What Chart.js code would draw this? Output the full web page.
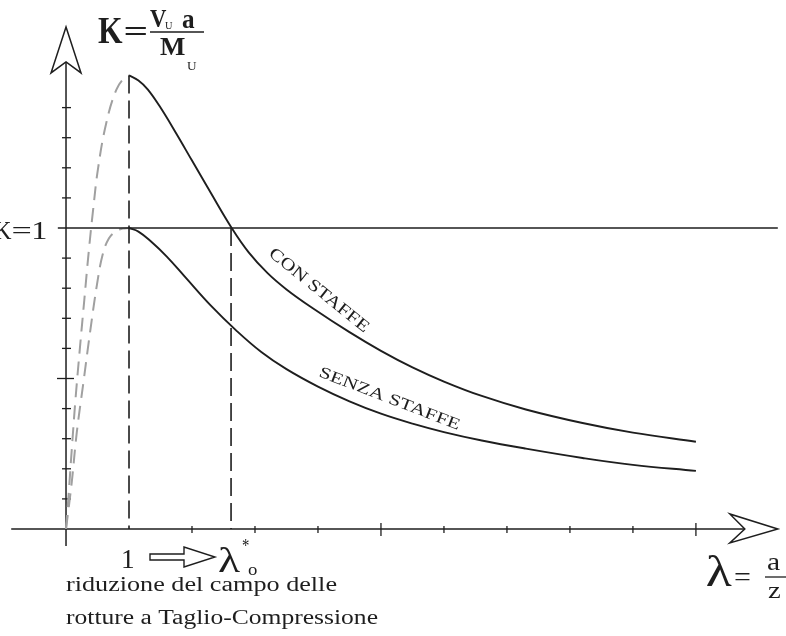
<!DOCTYPE html>
<html>
<head>
<meta charset="utf-8">
<script src="https://cdn.jsdelivr.net/npm/chart.js@4.4.0/dist/chart.umd.min.js"></script>
<style>
  html, body { margin: 0; padding: 0; background: #fff; }
  #wrap { width: 786px; height: 636px; position: relative; }
</style>
</head>
<body>
<div id="wrap"><canvas id="c"></canvas></div>
<script>
// curve CON STAFFE (lambda, K)
const conLam = [1, 1.15, 1.3, 1.5, 1.75, 2.0, 2.3, 2.63, 2.9, 3.2, 3.5, 3.9, 4.5, 5.0, 5.5, 6.0, 6.6, 7.3, 8.2, 9.0, 10.0];
const conK   = [1.507, 1.49, 1.46, 1.40, 1.314, 1.224, 1.116, 1.0, 0.919, 0.85, 0.796, 0.736, 0.654, 0.592, 0.537, 0.49, 0.442, 0.397, 0.352, 0.32, 0.29];

// curve SENZA STAFFE
const senzaLam = [1, 1.15, 1.35, 1.6, 1.9, 2.3, 2.7, 3.1, 3.5, 4.0, 4.5, 5.0, 5.5, 6.0, 6.6, 7.3, 8.2, 9.0, 10.0];
const senzaK   = [1.0, 0.988, 0.955, 0.905, 0.835, 0.742, 0.66, 0.588, 0.531, 0.473, 0.424, 0.383, 0.35, 0.322, 0.294, 0.267, 0.236, 0.213, 0.193];

// grey dashed branches (lambda < 1)
const outerLam = [0, 0.04, 0.09, 0.15, 0.22, 0.29, 0.36, 0.43, 0.51, 0.64, 0.8, 0.93, 1];
const outerK   = [0, 0.11, 0.26, 0.43, 0.6, 0.76, 0.92, 1.06, 1.2, 1.35, 1.46, 1.5, 1.507];
const innerLam = [0, 0.09, 0.17, 0.275, 0.38, 0.49, 0.58, 0.68, 0.8, 0.9, 1];
const innerK   = [0, 0.153, 0.319, 0.485, 0.651, 0.81, 0.91, 0.965, 0.99, 0.998, 1.0];

const lamStar = 2.62;
const kPeak = 1.507;
const lamTicks = [2, 3, 4, 5, 6, 7, 8, 9, 10];
const lamMajor = [5, 10];
const kTicks = [0.1, 0.2, 0.3, 0.4, 0.5, 0.6, 0.7, 0.8, 0.9, 1.1, 1.2, 1.3, 1.4];
const kMajor = [0.5];

const SERIF = "'Liberation Serif', 'DejaVu Serif', serif";
const INK = '#1e1e1e';

const pts = (xs, ys) => xs.map((x, i) => ({ x: x, y: ys[i] }));

// draw text so that its ink fills the given box
function boxText(ctx, str, x0, y0, x1, y1, weight) {
    ctx.save();
    ctx.font = (weight || 'normal') + ' 100px ' + SERIF;
    let m = ctx.measureText(str);
    const h = m.actualBoundingBoxAscent + m.actualBoundingBoxDescent;
    const size = 100 * (y1 - y0) / h;
    ctx.font = (weight || 'normal') + ' ' + size.toFixed(1) + 'px ' + SERIF;
    m = ctx.measureText(str);
    const w = m.actualBoundingBoxLeft + m.actualBoundingBoxRight;
    const sx = (x1 - x0) / w;
    ctx.translate(x0 + m.actualBoundingBoxLeft * sx, y0 + m.actualBoundingBoxAscent);
    ctx.scale(sx, 1);
    ctx.textAlign = 'left';
    ctx.textBaseline = 'alphabetic';
    ctx.fillStyle = INK;
    ctx.fillText(str, 0, 0);
    ctx.restore();
}

// text with fixed size, stretched to a given advance width
function fitText(ctx, str, x, base, size, width, angle) {
    ctx.save();
    ctx.font = size + 'px ' + SERIF;
    const w = ctx.measureText(str).width;
    ctx.translate(x, base);
    if (angle) ctx.rotate(angle * Math.PI / 180);
    ctx.scale(width / w, 1);
    ctx.textAlign = angle ? 'center' : 'left';
    ctx.textBaseline = 'alphabetic';
    ctx.fillStyle = INK;
    ctx.fillText(str, 0, 0);
    ctx.restore();
}

const axesPlugin = {
    id: 'axes',
    beforeDatasetsDraw(chart) {
        const ctx = chart.ctx;
        const xs = chart.scales.x, ys = chart.scales.y;
        const x0 = xs.getPixelForValue(0), y0 = ys.getPixelForValue(0);
        ctx.save();
        ctx.strokeStyle = INK;
        ctx.lineWidth = 1.5;
        ctx.fillStyle = '#fff';

        // y axis
        const tipY = ys.getPixelForValue(1.668);
        ctx.beginPath();
        ctx.moveTo(x0, tipY + 35);
        ctx.lineTo(x0, y0 + 17);
        ctx.stroke();
        ctx.beginPath();
        ctx.moveTo(x0, tipY);
        ctx.lineTo(x0 - 15, tipY + 46);
        ctx.lineTo(x0, tipY + 35);
        ctx.lineTo(x0 + 15, tipY + 46);
        ctx.closePath();
        ctx.fill();
        ctx.stroke();

        // x axis
        const tipX = xs.getPixelForValue(11.3);
        ctx.beginPath();
        ctx.moveTo(xs.getPixelForValue(-0.87), y0);
        ctx.lineTo(tipX - 33, y0);
        ctx.stroke();
        ctx.beginPath();
        ctx.moveTo(tipX, y0);
        ctx.lineTo(tipX - 48, y0 - 15);
        ctx.lineTo(tipX - 33, y0);
        ctx.lineTo(tipX - 48, y0 + 14);
        ctx.closePath();
        ctx.fill();
        ctx.stroke();

        // ticks
        ctx.lineWidth = 1.3;
        lamTicks.forEach(v => {
            const px = xs.getPixelForValue(v);
            const big = lamMajor.includes(v);
            ctx.beginPath();
            ctx.moveTo(px, y0 - (big ? 6 : 3));
            ctx.lineTo(px, y0 + (big ? 7 : 4));
            ctx.stroke();
        });
        kTicks.forEach(v => {
            const py = ys.getPixelForValue(v);
            const big = kMajor.includes(v);
            ctx.beginPath();
            ctx.moveTo(x0 - (big ? 9 : 4), py);
            ctx.lineTo(x0 + (big ? 8 : 5), py);
            ctx.stroke();
        });
        ctx.restore();
    }
};

const labelPlugin = {
    id: 'labels',
    afterDraw(chart) {
        const ctx = chart.ctx;
        // K = Vu a / Mu
        boxText(ctx, 'K', 98, 18, 123, 43, 'bold');
        boxText(ctx, '=', 125, 27, 147, 35, 'bold');
        boxText(ctx, 'V', 150, 10, 167, 27, 'bold');
        boxText(ctx, 'U', 165, 22, 173, 29);
        boxText(ctx, 'a', 182, 15, 195, 28, 'bold');
        ctx.save();
        ctx.strokeStyle = INK;
        ctx.lineWidth = 1.6;
        ctx.beginPath();
        ctx.moveTo(150, 32);
        ctx.lineTo(204, 32);
        ctx.stroke();
        ctx.restore();
        boxText(ctx, 'M', 160, 38, 185, 55, 'bold');
        boxText(ctx, 'U', 187, 62, 197, 70);

        // K=1 (cut at the left edge)
        boxText(ctx, 'K', -6, 222, 12, 238);
        boxText(ctx, '=', 13, 227, 31, 233);
        boxText(ctx, '1', 34, 222, 46, 238);

        // curve names
        fitText(ctx, 'CON STAFFE', 316, 294, 17, 124, 39);
        fitText(ctx, 'SENZA STAFFE', 388, 403, 16, 150, 21);

        // 1 ==> lambda*_o
        boxText(ctx, '1', 123, 550, 134, 568);
        ctx.save();
        ctx.strokeStyle = INK;
        ctx.fillStyle = '#fff';
        ctx.lineWidth = 1.4;
        ctx.beginPath();
        ctx.moveTo(150, 554);
        ctx.lineTo(184, 554);
        ctx.lineTo(184, 547);
        ctx.lineTo(215, 557);
        ctx.lineTo(184, 567);
        ctx.lineTo(184, 560);
        ctx.lineTo(150, 560);
        ctx.closePath();
        ctx.fill();
        ctx.stroke();
        ctx.restore();
        boxText(ctx, 'λ', 218, 547, 240, 572);
        boxText(ctx, '*', 242, 539, 249, 546);
        boxText(ctx, 'o', 248, 567, 257, 575);

        fitText(ctx, 'riduzione del campo delle', 66, 591, 20, 271);
        fitText(ctx, 'rotture a Taglio-Compressione', 66, 624, 20, 312);

        // lambda = a / z
        boxText(ctx, 'λ', 707, 555, 732, 587);
        boxText(ctx, '=', 735, 573, 750, 580);
        boxText(ctx, 'a', 767, 558, 780, 570);
        ctx.save();
        ctx.strokeStyle = INK;
        ctx.lineWidth = 1.3;
        ctx.beginPath();
        ctx.moveTo(765, 577);
        ctx.lineTo(786, 577);
        ctx.stroke();
        ctx.restore();
        boxText(ctx, 'z', 768, 587, 780, 598);
    }
};

const solid = { showLine: true, pointRadius: 0, borderColor: INK, borderWidth: 1.9, tension: 0.4, fill: false };

new Chart(document.getElementById('c'), {
    type: 'scatter',
    data: {
        datasets: [
            { ...solid, label: 'K=1', data: [{ x: -0.13, y: 1 }, { x: 11.3, y: 1 }], borderWidth: 1.5, tension: 0 },
            { ...solid, label: 'lambda=1', data: [{ x: 1, y: kPeak }, { x: 1, y: 0 }], borderWidth: 1.6, borderDash: [18, 7], tension: 0 },
            { ...solid, label: 'lambda*', data: [{ x: lamStar, y: 1 }, { x: lamStar, y: 0 }], borderWidth: 1.6, borderDash: [18, 7], tension: 0 },
            { ...solid, label: 'outer', data: pts(outerLam, outerK), borderColor: '#a0a0a0', borderWidth: 2, borderDash: [14, 8] },
            { ...solid, label: 'inner', data: pts(innerLam, innerK), borderColor: '#a0a0a0', borderWidth: 2, borderDash: [14, 8] },
            { ...solid, label: 'CON STAFFE', data: pts(conLam, conK) },
            { ...solid, label: 'SENZA STAFFE', data: pts(senzaLam, senzaK) }
        ]
    },
    options: {
        responsive: true,
        maintainAspectRatio: false,
        animation: false,
        layout: { padding: 0 },
        plugins: {
            legend: { display: false },
            tooltip: { enabled: false }
        },
        scales: {
            x: { type: 'linear', min: -1.048, max: 11.43, display: false },
            y: { type: 'linear', min: -0.3555, max: 1.7575, display: false }
        }
    },
    plugins: [axesPlugin, labelPlugin]
});
</script>
</body>
</html>
